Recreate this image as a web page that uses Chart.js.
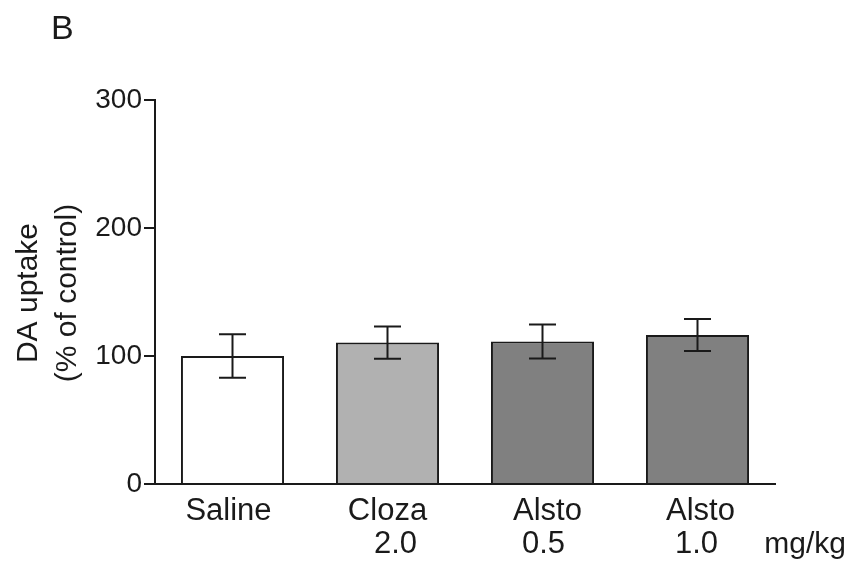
<!DOCTYPE html>
<html>
<head>
<meta charset="utf-8">
<script src="https://cdn.jsdelivr.net/npm/chart.js@4.4.1/dist/chart.umd.min.js"></script>
<style>
  html, body { margin: 0; padding: 0; background: #ffffff; }
  #wrap { width: 852px; height: 562px; position: relative; }
</style>
</head>
<body>
<div id="wrap"><canvas id="c" width="852" height="562"></canvas></div>
<script>
// ---- data ----
const groupNames = ["Saline", "Cloza", "Alsto", "Alsto"];
const doseLabels = ["", "2.0", "0.5", "1.0"];
const meanValues = [100, 110.5, 111.4, 116.4];
const semValues = [17, 12.6, 13.3, 12.5];
const yTickValues = [0, 100, 200, 300];
const yTitleLines = ["DA uptake", "(% of control)"];
const unitLabel = "mg/kg";
const panelLabel = "B";

// ---- style ----
const INK = "#1a1a1a";
const FONT = '"Liberation Sans", Arial, Helvetica, sans-serif';
const barFill = ["#ffffff", "#b1b1b1", "#808080", "#808080"];
const nameOffsets = [-4, 0, 5, 3];
const doseOffsets = [0, 8, 1, -1];

const errorBars = {
  id: "errorBars",
  afterDatasetsDraw(chart) {
    const ctx = chart.ctx;
    const y = chart.scales.y;
    const meta = chart.getDatasetMeta(0);
    ctx.save();
    ctx.strokeStyle = INK;
    ctx.lineWidth = 2;
    meta.data.forEach((bar, i) => {
      const x = bar.x;
      const top = y.getPixelForValue(meanValues[i] + semValues[i]);
      const bot = y.getPixelForValue(meanValues[i] - semValues[i]);
      const hw = 13.5;
      ctx.beginPath();
      ctx.moveTo(x, top); ctx.lineTo(x, bot);
      ctx.moveTo(x - hw, top); ctx.lineTo(x + hw, top);
      ctx.moveTo(x - hw, bot); ctx.lineTo(x + hw, bot);
      ctx.stroke();
    });
    ctx.restore();
  }
};

const textLayer = {
  id: "textLayer",
  afterDraw(chart) {
    const ctx = chart.ctx;
    const meta = chart.getDatasetMeta(0);
    const area = chart.chartArea;
    ctx.save();
    ctx.fillStyle = INK;
    ctx.font = "31px " + FONT;
    ctx.textAlign = "center";
    ctx.textBaseline = "alphabetic";
    meta.data.forEach((bar, i) => {
      ctx.fillText(groupNames[i], bar.x + nameOffsets[i], area.bottom + 36);
      if (doseLabels[i]) ctx.fillText(doseLabels[i], bar.x + doseOffsets[i], area.bottom + 69);
    });
    ctx.font = "30px " + FONT;
    ctx.textAlign = "right";
    ctx.fillText(unitLabel, chart.width - 6, area.bottom + 69);

    // y title
    ctx.font = "30px " + FONT;
    ctx.textAlign = "center";
    const cy = (area.top + area.bottom) / 2 + 1;
    const xs = [36.5, 75.5];
    yTitleLines.forEach((t, k) => {
      ctx.save();
      ctx.translate(xs[k], cy);
      ctx.rotate(-Math.PI / 2);
      ctx.fillText(t, 0, 0);
      ctx.restore();
    });

    // panel label
    ctx.font = "34px " + FONT;
    ctx.textAlign = "left";
    ctx.fillText(panelLabel, 51, 39);
    ctx.restore();
  }
};

new Chart(document.getElementById("c"), {
  type: "bar",
  data: {
    labels: groupNames.map((n, i) => doseLabels[i] ? [n, doseLabels[i]] : n),
    datasets: [{
      data: meanValues,
      backgroundColor: barFill,
      borderColor: INK,
      borderWidth: 2,
      barPercentage: 0.665,
      categoryPercentage: 1.0
    }]
  },
  options: {
    responsive: false,
    animation: false,
    devicePixelRatio: 1,
    layout: { padding: { left: 0, top: 100, right: 77, bottom: 78 } },
    plugins: { legend: { display: false }, tooltip: { enabled: false } },
    scales: {
      x: {
        grid: { display: false },
        border: { display: true, color: INK, width: 2 },
        ticks: { display: false },
        afterFit(s) { s.height = 0; }
      },
      y: {
        min: 0,
        max: 300,
        afterBuildTicks(s) { s.ticks = yTickValues.map(v => ({ value: v })); },
        ticks: { font: { size: 28, family: FONT }, color: INK, padding: 2 },
        grid: { drawOnChartArea: false, drawTicks: true, tickLength: 11, color: INK, lineWidth: 2 },
        border: { display: true, color: INK, width: 2 },
        afterFit(s) { s.width = 155; }
      }
    }
  },
  plugins: [errorBars, textLayer]
});
</script>
</body>
</html>
